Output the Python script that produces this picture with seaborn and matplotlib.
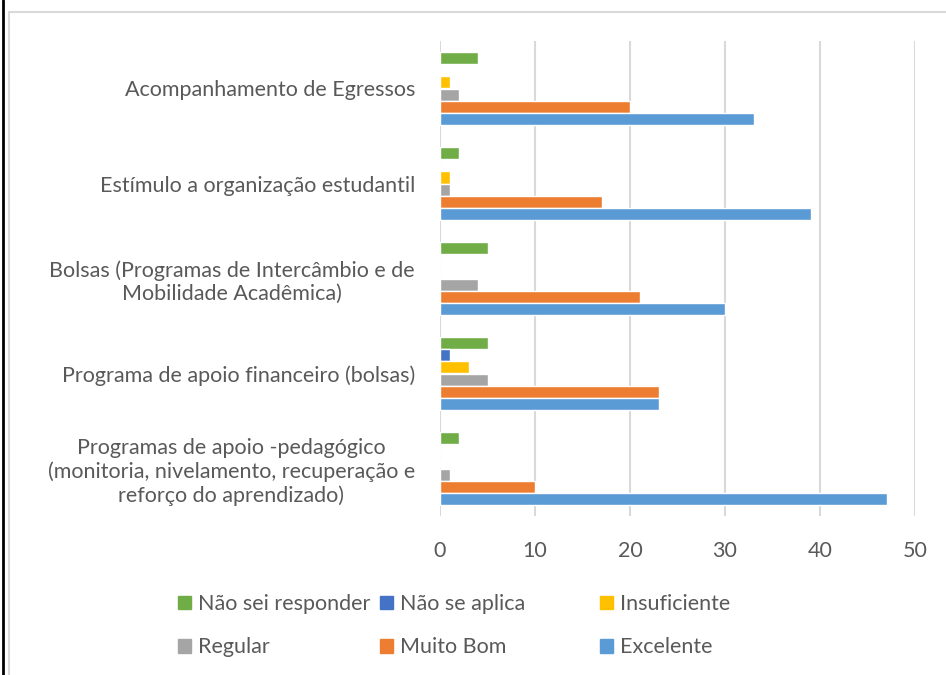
import pandas as pd
import matplotlib.pyplot as plt
import seaborn as sns
from matplotlib.patches import Rectangle
from matplotlib.lines import Line2D

# Categories (top to bottom) and series values
categories = [
    "Acompanhamento de Egressos",
    "Estímulo a organização estudantil",
    "Bolsas (Programas de Intercâmbio e de\nMobilidade Acadêmica)",
    "Programa de apoio financeiro (bolsas)",
    "Programas de apoio -pedagógico\n(monitoria, nivelamento, recuperação e\nreforço do aprendizado)",
]
series = ["Não sei responder", "Não se aplica", "Insuficiente", "Regular", "Muito Bom", "Excelente"]
nao_sei = [4, 2, 5, 5, 2]
nao_aplica = [0, 0, 0, 1, 0]
insuficiente = [1, 1, 0, 3, 0]
regular = [2, 1, 4, 5, 1]
muito_bom = [20, 17, 21, 23, 10]
excelente = [33, 39, 30, 23, 47]
colors = ["#70AD47", "#4472C4", "#FFC000", "#A5A5A5", "#ED7D31", "#5B9BD5"]
xticks = [0, 10, 20, 30, 40, 50]

rows = []
for name, vals in zip(series, [nao_sei, nao_aplica, insuficiente, regular, muito_bom, excelente]):
    for cat, v in zip(categories, vals):
        rows.append({"categoria": cat, "serie": name, "valor": v})
df = pd.DataFrame(rows)

sns.set_theme(style="white")
plt.rcParams["font.family"] = ["Lato", "DejaVu Sans"]
text_color = "#595959"
fs = 15.5

fig = plt.figure(figsize=(9.46, 6.75), dpi=100)
ax = fig.add_axes([440 / 946, 1 - 516 / 675, 475 / 946, 475 / 675])

sns.barplot(
    data=df, x="valor", y="categoria", hue="serie",
    order=categories, hue_order=series, palette=colors,
    orient="h", width=0.77, saturation=1, ax=ax, legend=False,
)

ax.set_xlim(0, 50)
ax.set_xticks(xticks)
ax.grid(axis="x", color="#D9D9D9", linewidth=1.5)
ax.set_axisbelow(True)
for s in ax.spines.values():
    s.set_visible(False)
ax.set_xlabel("")
ax.set_ylabel("")
ax.tick_params(axis="x", labelsize=fs, labelcolor=text_color, length=0, pad=18)
ax.tick_params(axis="y", labelsize=fs, labelcolor=text_color, length=0, pad=18)
for lab in ax.get_yticklabels():
    lab.set_multialignment("center")

# Legend below the plot: three columns, two rows each
col_x = [161, 363, 583]
for i, x0 in enumerate(col_x):
    idx = [i, i + 3]
    fig.legend(
        [Rectangle((0, 0), 1, 1, color=colors[j]) for j in idx],
        [series[j] for j in idx],
        loc="upper left", bbox_to_anchor=(x0 / 946, 1 - 577 / 675),
        ncol=1, frameon=False, fontsize=fs, labelcolor=text_color,
        handlelength=0.6, handleheight=0.6, handletextpad=0.3,
        labelspacing=1.07, borderpad=0.3,
    )

# Chart border and left page line
fig.add_artist(Rectangle((9 / 946, -0.01), 1.0, 1 - 12 / 675 + 0.01, transform=fig.transFigure,
                         fill=False, edgecolor="#D9D9D9", linewidth=1.5))
fig.add_artist(Line2D([3 / 946, 3 / 946], [0, 1], transform=fig.transFigure, color="black", linewidth=2))

fig.savefig("out.png", dpi=100)
